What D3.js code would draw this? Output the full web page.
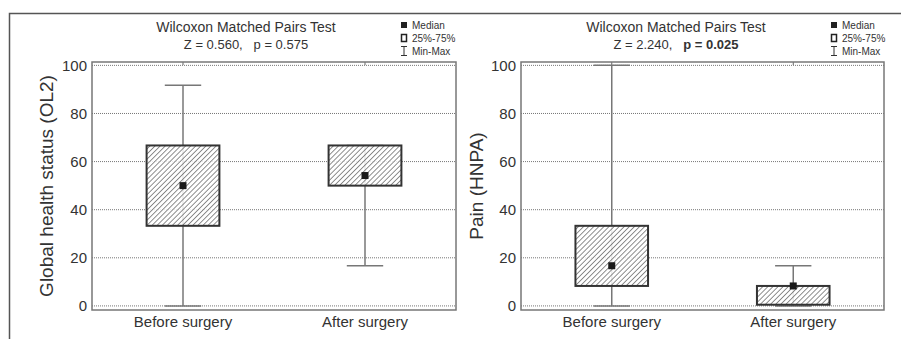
<!DOCTYPE html>
<html>
<head>
<meta charset="utf-8">
<script src="https://cdn.jsdelivr.net/npm/d3@7"></script>
<style>
  body { margin: 0; background: #fff; }
  svg { display: block; font-family: "Liberation Sans", Arial, sans-serif; }
</style>
</head>
<body>
<div id="chart"></div>
<script>
// Categories shared by both panels
const groups = ["Before surgery", "After surgery"];
const yTicks = [0, 20, 40, 60, 80, 100];

// Left panel: Global health status (OL2)
const ghsMin = [0, 16.7];
const ghsQ1 = [33.3, 50];
const ghsMedian = [50, 54.2];
const ghsQ3 = [66.7, 66.7];
const ghsMax = [91.7, 66.7];

// Right panel: Pain (HNPA)
const painMin = [0, 0];
const painQ1 = [8.3, 0.5];
const painMedian = [16.7, 8.3];
const painQ3 = [33.3, 8.3];
const painMax = [100, 16.7];

const width = 901, height = 339;

const svg = d3.select("#chart")
    .append("svg")
    .attr("width", width)
    .attr("height", height);

// diagonal hatch pattern
const defs = svg.append("defs");
defs.append("pattern")
    .attr("id", "hatch")
    .attr("patternUnits", "userSpaceOnUse")
    .attr("width", 3.6)
    .attr("height", 3.6)
    .attr("patternTransform", "rotate(45)")
    .append("line")
    .attr("x1", 0).attr("y1", 0)
    .attr("x2", 0).attr("y2", 3.6)
    .attr("stroke", "#333")
    .attr("stroke-width", 1.1);

// outer frame (left and top edges only)
svg.append("path")
    .attr("d", "M9.5,339 L9.5,13.5 L901,13.5")
    .attr("fill", "none")
    .attr("stroke", "#555")
    .attr("stroke-width", 1.5);

const panels = [
    {
        x0: 92, x1: 456, yLabel: "Global health status (OL2)", yLabelX: 53,
        titleX: 246, z: "Z = 0.560,", p: "p = 0.575", pBold: false, legendX: 404,
        min: ghsMin, q1: ghsQ1, med: ghsMedian, q3: ghsQ3, max: ghsMax
    },
    {
        x0: 521, x1: 884, yLabel: "Pain (HNPA)", yLabelX: 483,
        titleX: 676, z: "Z = 2.240,", p: "p = 0.025", pBold: true, legendX: 834,
        min: painMin, q1: painQ1, med: painMedian, q3: painQ3, max: painMax
    }
];

panels.forEach(drawPanel);

function drawPanel(cfg) {
    const top = 62, bottom = 310;

    const x = d3.scaleBand()
        .domain(groups)
        .range([cfg.x0, cfg.x1])
        .padding(0);

    const y = d3.scaleLinear()
        .domain([-1.7, 101.4])
        .range([bottom, top]);

    const g = svg.append("g");

    // dotted gridlines
    g.append("g")
        .selectAll("line")
        .data(yTicks)
        .join("line")
        .attr("x1", cfg.x0)
        .attr("x2", cfg.x1)
        .attr("y1", d => y(d))
        .attr("y2", d => y(d))
        .attr("stroke", "#777")
        .attr("stroke-width", 1)
        .attr("stroke-dasharray", "1,1");

    // y axis labels
    const yAxis = d3.axisLeft(y).tickValues(yTicks).tickSize(0).tickPadding(5);
    const ya = g.append("g")
        .attr("transform", `translate(${cfg.x0},0)`)
        .call(yAxis);
    ya.select(".domain").remove();
    ya.selectAll("text")
        .attr("font-size", 15)
        .attr("fill", "#333")
        .style("font-family", "Liberation Sans, Arial, sans-serif");

    // x axis labels
    const xAxis = d3.axisBottom(x).tickSize(0).tickPadding(6);
    const xa = g.append("g")
        .attr("transform", `translate(0,${bottom})`)
        .call(xAxis);
    xa.select(".domain").remove();
    xa.selectAll("text")
        .attr("font-size", 15)
        .attr("fill", "#333")
        .style("font-family", "Liberation Sans, Arial, sans-serif");

    // small ticks at category positions (top)
    g.append("g")
        .selectAll("line")
        .data(groups)
        .join("line")
        .attr("x1", d => x(d) + x.bandwidth() / 2)
        .attr("x2", d => x(d) + x.bandwidth() / 2)
        .attr("y1", top)
        .attr("y2", top + 3)
        .attr("stroke", "#666");

    // plot frame
    g.append("rect")
        .attr("x", cfg.x0)
        .attr("y", top)
        .attr("width", cfg.x1 - cfg.x0)
        .attr("height", bottom - top)
        .attr("fill", "none")
        .attr("stroke", "#777")
        .attr("stroke-width", 1.5);

    const boxW = x.bandwidth() * 0.4;
    const capW = x.bandwidth() * 0.1;
    const cx = i => x(groups[i]) + x.bandwidth() / 2;

    const boxes = g.append("g")
        .selectAll("g")
        .data(groups.map((d, i) => i))
        .join("g");

    // whisker lines
    boxes.append("line")
        .attr("x1", i => cx(i)).attr("x2", i => cx(i))
        .attr("y1", i => y(cfg.max[i]))
        .attr("y2", i => y(cfg.min[i]))
        .attr("stroke", "#777")
        .attr("stroke-width", 1.5);

    // caps
    boxes.append("line")
        .attr("x1", i => cx(i) - capW).attr("x2", i => cx(i) + capW)
        .attr("y1", i => y(cfg.max[i])).attr("y2", i => y(cfg.max[i]))
        .attr("stroke", "#777")
        .attr("stroke-width", 1.5);
    boxes.append("line")
        .attr("x1", i => cx(i) - capW).attr("x2", i => cx(i) + capW)
        .attr("y1", i => y(cfg.min[i])).attr("y2", i => y(cfg.min[i]))
        .attr("stroke", "#777")
        .attr("stroke-width", 1.5);

    // boxes
    boxes.append("rect")
        .attr("x", i => cx(i) - boxW / 2)
        .attr("y", i => y(cfg.q3[i]))
        .attr("width", boxW)
        .attr("height", i => Math.max(y(cfg.q1[i]) - y(cfg.q3[i]), 1))
        .attr("fill", "#fff")
        .attr("fill-opacity", 0.85);
    boxes.append("rect")
        .attr("x", i => cx(i) - boxW / 2)
        .attr("y", i => y(cfg.q3[i]))
        .attr("width", boxW)
        .attr("height", i => Math.max(y(cfg.q1[i]) - y(cfg.q3[i]), 1))
        .attr("fill", "url(#hatch)")
        .attr("stroke", "#333")
        .attr("stroke-width", 2);

    // median markers
    boxes.append("rect")
        .attr("x", i => cx(i) - 3.5)
        .attr("y", i => y(cfg.med[i]) - 3.5)
        .attr("width", 7)
        .attr("height", 7)
        .attr("fill", "#1a1a1a");

    // y label
    g.append("text")
        .attr("transform", `translate(${cfg.yLabelX},${(top + bottom) / 2}) rotate(-90)`)
        .attr("text-anchor", "middle")
        .attr("font-size", 19)
        .attr("fill", "#333")
        .text(cfg.yLabel);

    // title
    g.append("text")
        .attr("x", cfg.titleX)
        .attr("y", 32)
        .attr("text-anchor", "middle")
        .attr("font-size", 14)
        .attr("fill", "#333")
        .text("Wilcoxon Matched Pairs Test");

    const sub = g.append("text")
        .attr("x", cfg.titleX)
        .attr("y", 49)
        .attr("text-anchor", "middle")
        .attr("font-size", 13)
        .attr("fill", "#333")
        .attr("xml:space", "preserve");
    sub.append("tspan").text(cfg.z + "   ");
    sub.append("tspan")
        .attr("font-weight", cfg.pBold ? "bold" : "normal")
        .text(cfg.p);

    // legend
    const lg = g.append("g")
        .attr("transform", `translate(${cfg.legendX},0)`);
    lg.append("rect")
        .attr("x", -3).attr("y", 22)
        .attr("width", 6).attr("height", 6)
        .attr("fill", "#222");
    lg.append("rect")
        .attr("x", -2.5).attr("y", 34.5)
        .attr("width", 5).attr("height", 7)
        .attr("fill", "#fff")
        .attr("stroke", "#222")
        .attr("stroke-width", 1.5);
    lg.append("path")
        .attr("d", "M-3,46.5 L3,46.5 M0,46.5 L0,55.5 M-3,55.5 L3,55.5")
        .attr("stroke", "#333")
        .attr("stroke-width", 1);
    const legendText = ["Median", "25%-75%", "Min-Max"];
    lg.selectAll("text.lt")
        .data(legendText)
        .join("text")
        .attr("class", "lt")
        .attr("x", 8)
        .attr("y", (d, i) => 29 + i * 13)
        .attr("font-size", 10)
        .attr("fill", "#333")
        .text(d => d);
}
</script>
</body>
</html>
